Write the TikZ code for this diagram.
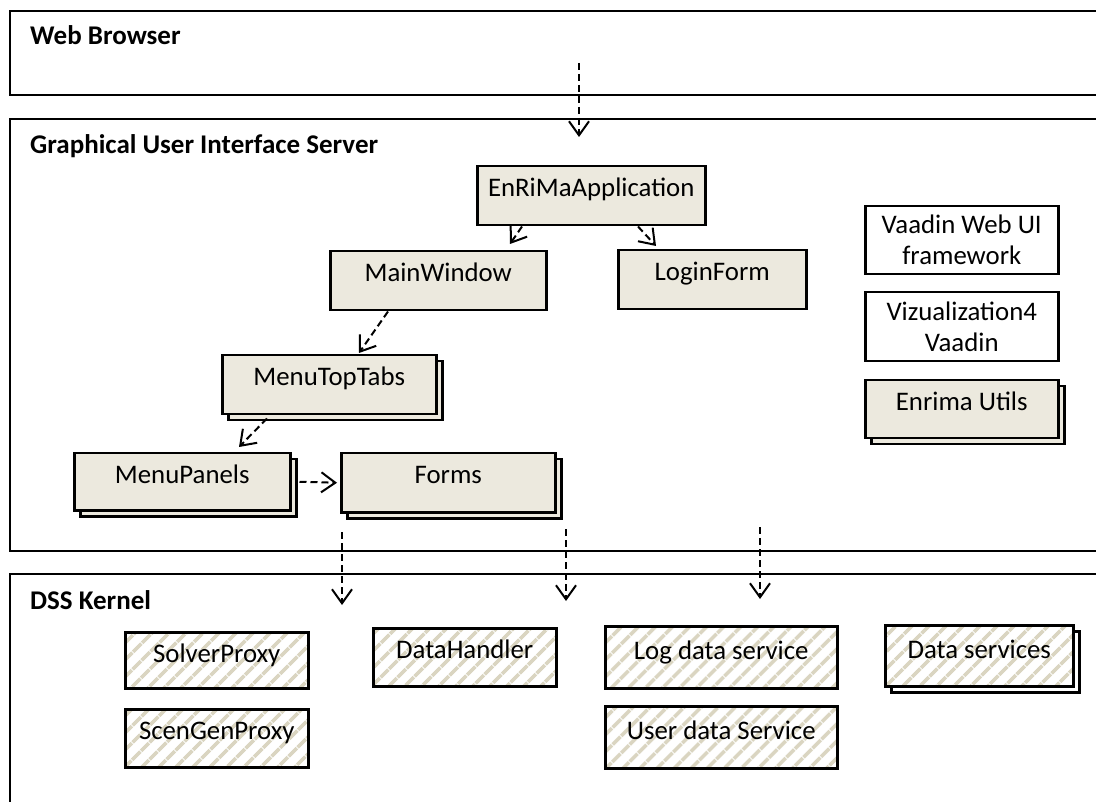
\documentclass[tikz,border=0pt]{standalone}
\usepackage{fontspec}
\setmainfont{Carlito}
\usetikzlibrary{arrows.meta,shadows,patterns.meta}
\definecolor{compfill}{RGB}{236,233,222}
\definecolor{hatchline}{RGB}{218,213,193}
\tikzset{
  layer/.style={draw, line width=2.5pt},
  layertitle/.style={anchor=base west, inner sep=0pt, font=\fontsize{27}{32}\selectfont\bfseries},
  comp/.style={draw, line width=2.5pt, fill=compfill, anchor=north west, inner sep=0pt,
    text height=30pt, text depth=29pt, font=\fontsize{26.8}{31}\selectfont},
  compstack/.style={comp, general shadow={fill=compfill, draw=black, line width=2.5pt,
    shadow xshift=6pt, shadow yshift=-6pt}},
  libbox/.style={draw, line width=2.5pt, fill=white, anchor=north west, align=center,
    inner sep=0pt, minimum width=193pt, font=\fontsize{26.8}{31}\selectfont},
  svc/.style={draw=black, line width=2.5pt, anchor=north west, inner sep=0pt,
    preaction={fill=white},
    preaction={pattern={Lines[angle=45,distance=13pt,line width=4pt]}, pattern color=hatchline},
    text height=30pt, text depth=28pt, font=\fontsize{26.8}{31}\selectfont},
  svcstack/.style={general shadow={fill=white, draw=black, line width=2.5pt,
    shadow xshift=6pt, shadow yshift=-6pt}, svc},
  dep/.style={line width=2pt, dash pattern=on 7pt off 4pt,
    -{Straight Barb[length=14pt,width=20pt,line width=2pt]}}
}
\begin{document}
\begin{tikzpicture}[x=1pt,y=-1pt]
  \useasboundingbox (0,0) rectangle (1096,802);
  \clip (0,0) rectangle (1096,802);
  \fill[white] (0,0) rectangle (1096,802);

  \draw[layer] (10,11) rectangle (1120,95);
  \draw[layer] (10,119) rectangle (1120,551);
  \draw[layer] (10,574) rectangle (1120,830);
  \node[layertitle] (webtitle) at (30,45) {Web Browser};
  \node[layertitle] (guititle) at (30,154) {Graphical User Interface Server};
  \node[layertitle] (dsstitle) at (30,609) {DSS Kernel};

  \node[comp, minimum width=228pt] (app) at (476,165) {EnRiMaApplication};
  \node[comp, minimum width=216pt] (mainwin) at (329,250) {MainWindow};
  \node[comp, minimum width=188pt] (login) at (617,249) {LoginForm};
  \node[compstack, minimum width=214pt] (toptabs) at (221,354) {MenuTopTabs};
  \node[compstack, minimum width=216pt, text depth=27pt] (panels) at (73,452) {MenuPanels};
  \node[compstack, minimum width=214pt] (forms) at (340,452) {Forms};

  \node[libbox, minimum height=68pt] (vaadin) at (864,205) {Vaadin Web UI\\framework};
  \node[libbox, minimum height=69pt] (viz) at (864,291) {Vizualization4\\Vaadin};
  \node[compstack, minimum width=193pt, text depth=28pt] (utils) at (864,379) {Enrima Utils};

  \node[svc, minimum width=183pt, text depth=26pt] (solver) at (124,631) {SolverProxy};
  \node[svc, minimum width=183pt] (scengen) at (124,708) {ScenGenProxy};
  \node[svc, minimum width=183pt] (handler) at (372,627) {DataHandler};
  \node[svc, minimum width=232pt, text height=33pt, text depth=29pt] (logdata) at (604,625) {Log data service};
  \node[svc, minimum width=232pt, text height=33pt, text depth=29pt] (userdata) at (604,705) {User data Service};
  \node[svcstack, minimum width=188pt, text height=33pt] (dataserv) at (884,624) {Data services};

  \coordinate (webout) at (579,63);
  \coordinate (guiin) at (579,137);
  \coordinate (guiout1) at (342,532);
  \coordinate (dssin1) at (342,605);
  \coordinate (guiout2) at (566,529);
  \coordinate (dssin2) at (566,601);
  \coordinate (guiout3) at (760,527);
  \coordinate (dssin3) at (760,599);

  \draw[dep] (webout) -- (guiin);
  \draw[dep] ([xshift=46pt]app.south west) -- ([xshift=181pt,yshift=6pt]mainwin.north west);
  \draw[dep] ([xshift=162pt]app.south west) -- ([xshift=39pt,yshift=3pt]login.north west);
  \draw[dep] ([xshift=59pt]mainwin.south west) -- ([xshift=138pt,yshift=1pt]toptabs.north west);
  \draw[dep] ([xshift=46pt,yshift=-3pt]toptabs.south west) -- ([xshift=166pt,yshift=5pt]panels.north west);
  \draw[dep] ([xshift=8pt]panels.east) -- ([xshift=-3pt]forms.west);
  \draw[dep] (guiout1) -- (dssin1);
  \draw[dep] (guiout2) -- (dssin2);
  \draw[dep] (guiout3) -- (dssin3);
\end{tikzpicture}
\end{document}
